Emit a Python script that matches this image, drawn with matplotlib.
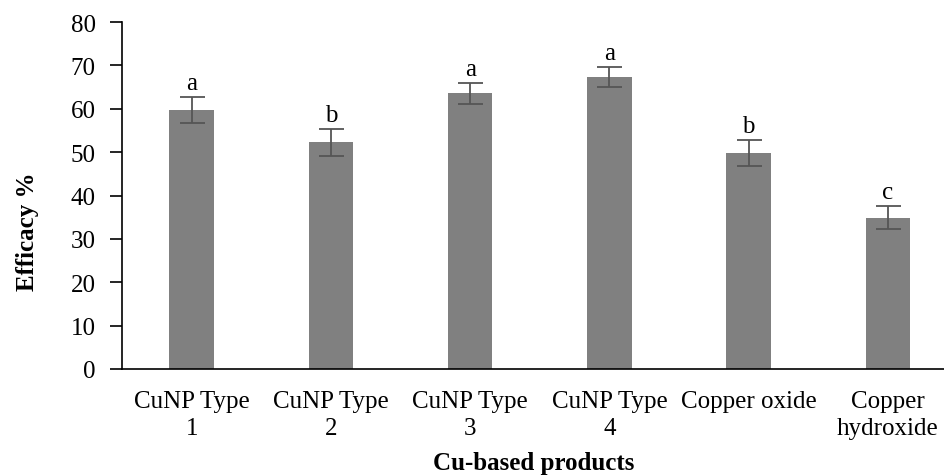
import matplotlib
matplotlib.use('Agg')
import matplotlib.pyplot as plt

# Data
products = ['CuNP Type\n1', 'CuNP Type\n2', 'CuNP Type\n3', 'CuNP Type\n4',
            'Copper oxide', 'Copper\nhydroxide']
efficacy = [59.8, 52.3, 63.6, 67.3, 49.9, 34.9]
errors = [3.0, 3.1, 2.4, 2.4, 3.0, 2.7]
letters = ['a', 'b', 'a', 'a', 'b', 'c']

plt.rcParams['font.family'] = ['Liberation Serif', 'DejaVu Serif']

fig = plt.figure(figsize=(9.45, 4.77), dpi=100)
ax = fig.add_axes([122/945, 1 - 370/477, 1 - 122/945, 347/477])

x = range(len(products))
ax.bar(x, efficacy, width=0.32, color='#808080',
       yerr=errors, error_kw=dict(ecolor='#555555', elinewidth=1.3, capsize=9, capthick=1.3))

# Letters above error bars
for i, (v, e, t) in enumerate(zip(efficacy, errors, letters)):
    ax.text(i, v + e + 0.6, t, ha='center', va='bottom', fontsize=18)

ax.set_ylim(0, 80)
ax.set_yticks(range(0, 81, 10))
ax.set_xlim(-0.5, 5.41)
ax.set_xticks(list(x))
ax.set_xticklabels(products, fontsize=18, linespacing=1.3)
ax.tick_params(axis='y', labelsize=18, length=9, width=1.2, direction='out', pad=10)
ax.tick_params(axis='x', length=0, pad=15)

for s in ['top', 'right']:
    ax.spines[s].set_visible(False)
ax.spines['left'].set_linewidth(1.2)
ax.spines['bottom'].set_linewidth(1.2)

ax.set_ylabel('Efficacy %', fontsize=18, fontweight='bold', va='center')
ax.yaxis.set_label_coords(-0.115, 0.40)
ax.set_xlabel('Cu-based products', fontsize=18, fontweight='bold', va='center')
ax.xaxis.set_label_coords(0.5, -0.270)

fig.savefig('out.png', dpi=100)
